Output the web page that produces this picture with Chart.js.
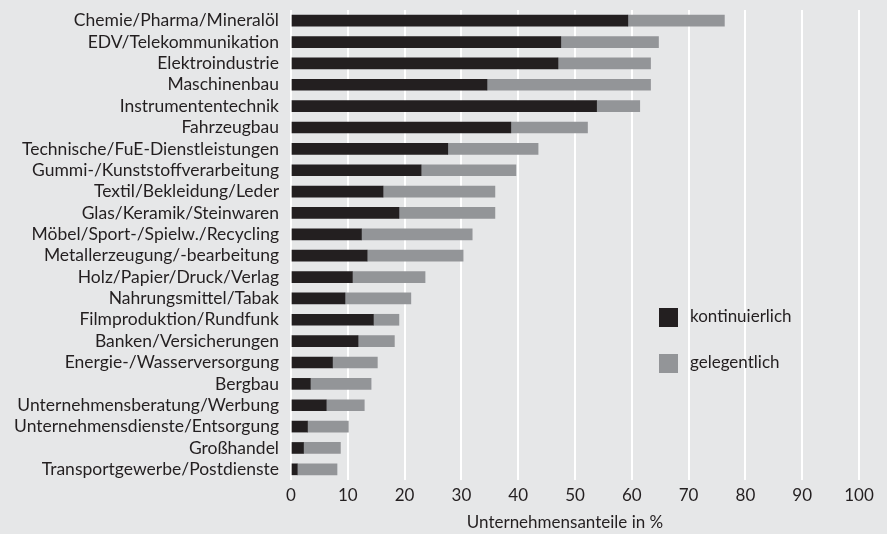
<!DOCTYPE html>
<html>
<head>
<meta charset="utf-8">
<script src="https://cdn.jsdelivr.net/npm/chart.js@4"></script>
<style>
  html, body { margin: 0; padding: 0; background: #e6e7e8; }
  #wrap { width: 887px; height: 534px; }
</style>
</head>
<body>
<div id="wrap"><canvas id="chart" width="887" height="534"></canvas></div>
<script>
// Branchen (von oben nach unten)
const branchen = [
  "Chemie/Pharma/Mineralöl",
  "EDV/Telekommunikation",
  "Elektroindustrie",
  "Maschinenbau",
  "Instrumententechnik",
  "Fahrzeugbau",
  "Technische/FuE-Dienstleistungen",
  "Gummi-/Kunststoffverarbeitung",
  "Textil/Bekleidung/Leder",
  "Glas/Keramik/Steinwaren",
  "Möbel/Sport-/Spielw./Recycling",
  "Metallerzeugung/-bearbeitung",
  "Holz/Papier/Druck/Verlag",
  "Nahrungsmittel/Tabak",
  "Filmproduktion/Rundfunk",
  "Banken/Versicherungen",
  "Energie-/Wasserversorgung",
  "Bergbau",
  "Unternehmensberatung/Werbung",
  "Unternehmensdienste/Entsorgung",
  "Großhandel",
  "Transportgewerbe/Postdienste",
];

// Anteil kontinuierlich (%)
const kontinuierlich = [59.3, 47.5, 47.0, 34.5, 53.8, 38.7, 27.6, 22.9, 16.2, 19.0, 12.4,
  13.4, 10.8, 9.5, 14.5, 11.8, 7.3, 3.4, 6.2, 2.9, 2.2, 1.1];

// Anteil gelegentlich (%) -- zusätzlich zu kontinuierlich
const gelegentlich = [17.0, 17.2, 16.3, 28.8, 7.6, 13.5, 15.9, 16.7, 19.7, 16.9, 19.5,
  16.9, 12.8, 11.6, 4.5, 6.4, 7.9, 10.7, 6.7, 7.2, 6.5, 7.0];

const xTicks = [0, 10, 20, 30, 40, 50, 60, 70, 80, 90, 100];
const xTitle = "Unternehmensanteile in %";

const FONT = "Lato, 'Open Sans', sans-serif";
const TEXT = "#231f20";

// eigene Legende rechts im Diagramm + Achsentitel
const extras = {
  id: "extras",
  afterDraw(chart) {
    const ctx = chart.ctx;
    const area = chart.chartArea;
    const x0 = area.left + 368;
    ctx.save();
    ctx.textBaseline = "middle";
    chart.data.datasets.forEach((ds, i) => {
      const y0 = area.top + 298 + i * 46;
      ctx.fillStyle = ds.backgroundColor;
      ctx.fillRect(x0, y0, 19, 19);
      ctx.fillStyle = TEXT;
      ctx.font = "17px " + FONT;
      ctx.textAlign = "left";
      ctx.fillText(ds.label, x0 + 31, y0 + 9);
    });
    ctx.fillStyle = TEXT;
    ctx.font = "17px " + FONT;
    ctx.textAlign = "center";
    ctx.fillText(xTitle, (area.left + area.right) / 2 - 10, chart.height - 11);
    ctx.restore();
  },
};

new Chart(document.getElementById("chart"), {
  type: "bar",
  data: {
    labels: branchen,
    datasets: [
      {
        label: "kontinuierlich",
        data: kontinuierlich,
        backgroundColor: "#231f20",
        barThickness: 11,
      },
      {
        label: "gelegentlich",
        data: gelegentlich,
        backgroundColor: "#939598",
        barThickness: 11,
      },
    ],
  },
  options: {
    indexAxis: "y",
    responsive: false,
    animation: false,
    layout: { padding: { top: 10, right: 28, left: 0, bottom: 0 } },
    plugins: {
      legend: { display: false },
      tooltip: { enabled: false },
    },
    scales: {
      x: {
        stacked: true,
        min: 0,
        max: 100,
        afterBuildTicks: (axis) => {
          axis.ticks = xTicks.map((v) => ({ value: v }));
        },
        afterFit: (axis) => {
          axis.height = 54;
          axis.paddingLeft = 0;
          axis.paddingRight = 0;
        },
        border: { display: false },
        grid: {
          color: "#ffffff",
          lineWidth: 2,
          drawTicks: false,
        },
        ticks: {
          color: TEXT,
          padding: 5,
          font: { family: FONT, size: 17 },
        },
      },
      y: {
        stacked: true,
        afterFit: (axis) => {
          axis.width = 291;
          axis.paddingTop = 0;
          axis.paddingBottom = 0;
        },
        border: { display: false },
        grid: { display: false, drawTicks: false },
        ticks: {
          color: TEXT,
          padding: 12,
          autoSkip: false,
          font: { family: FONT, size: 17.5 },
        },
      },
    },
  },
  plugins: [extras],
});
</script>
</body>
</html>
